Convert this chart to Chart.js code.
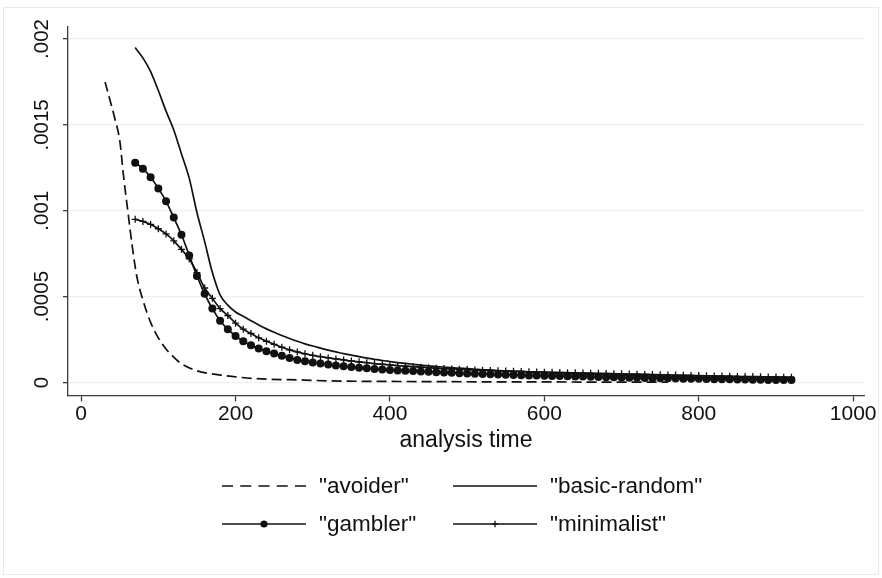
<!DOCTYPE html>
<html>
<head>
<meta charset="utf-8">
<script src="https://cdn.jsdelivr.net/npm/chart.js"></script>
<style>
  html, body { margin: 0; padding: 0; background: #fff; }
  canvas { display: block; }
</style>
</head>
<body>
<canvas id="myChart" width="882" height="578"></canvas>
<script>
// analysis time at which gambler / minimalist / basic-random are read
const times = [70, 80, 90, 100, 110, 120, 130, 140, 150, 160, 170, 180, 190, 200, 210, 220, 230, 240, 250, 260,
  270, 280, 290, 300, 310, 320, 330, 340, 350, 360, 370, 380, 390, 400, 410, 420, 430, 440, 450, 460,
  470, 480, 490, 500, 510, 520, 530, 540, 550, 560, 570, 580, 590, 600, 610, 620, 630, 640, 650, 660,
  670, 680, 690, 700, 710, 720, 730, 740, 750, 760, 770, 780, 790, 800, 810, 820, 830, 840, 850, 860,
  870, 880, 890, 900, 910, 920];

const avoiderTimes = [31, 40, 44, 50, 55, 61, 66, 72, 80, 90, 100, 110, 116, 129, 150, 181, 224, 289, 322, 400, 500, 600, 700, 760];
const avoider = [0.00175, 0.0016, 0.00153, 0.00141, 0.0012, 0.00098, 0.0008, 0.00062, 0.00048, 0.00035, 0.00026, 0.000195,
  0.000165, 0.000112, 0.000068, 0.000043, 0.000023, 0.000014, 0.000009, 0.000006, 0.000004, 0.000003, 0.000002, 0.000002];

const basicRandom = [0.00195, 0.00189, 0.00181, 0.0017, 0.00158, 0.00147, 0.00133, 0.00119, 0.00099, 0.00082,
  0.00064, 0.00051, 0.00045, 0.00041, 0.000385, 0.00036, 0.000335, 0.000312, 0.000292, 0.000273,
  0.000256, 0.00024, 0.000225, 0.000212, 0.0002, 0.000188, 0.000178, 0.000168, 0.000159, 0.00015,
  0.000142, 0.000135, 0.000128, 0.000122, 0.000116, 0.000111, 0.000106, 0.000101, 0.000097, 0.000093,
  0.00009, 0.000086, 0.000083, 0.00008, 0.000077, 0.000074, 0.000072, 0.000069, 0.000067, 0.000065,
  0.000063, 0.000061, 0.000059, 0.000057, 0.000055, 0.000054, 0.000052, 0.00005, 0.000049, 0.000047,
  0.000046, 0.000044, 0.000043, 0.000042, 0.00004, 0.000039, 0.000038, 0.000037, 0.000036, 0.000035,
  0.000034, 0.000033, 0.000032, 0.000031, 0.00003, 0.000029, 0.000028, 0.000027, 0.000026, 0.000025,
  0.000025, 0.000024, 0.000023, 0.000022, 0.000022, 0.000021];

const gambler = [0.00128, 0.001245, 0.001195, 0.00113, 0.001055, 0.00096, 0.00086, 0.00074, 0.00062, 0.000516,
  0.00043, 0.00036, 0.00031, 0.00027, 0.00024, 0.000216, 0.000197, 0.000182, 0.000168, 0.000155,
  0.000143, 0.000131, 0.000124, 0.000116, 0.00011, 0.000104, 0.000099, 0.000094, 0.00009, 0.000086,
  0.000082, 0.000079, 0.000076, 0.000073, 0.00007, 0.000068, 0.000066, 0.000064, 0.000062, 0.00006,
  0.000058, 0.000056, 0.000054, 0.000052, 0.000051, 0.000049, 0.000048, 0.000046, 0.000045, 0.000044,
  0.000042, 0.000041, 0.00004, 0.000039, 0.000038, 0.000037, 0.000036, 0.000035, 0.000034, 0.000033,
  0.000032, 0.000031, 0.00003, 0.000029, 0.000028, 0.000027, 0.000026, 0.000025, 0.000024, 0.000024,
  0.000023, 0.000022, 0.000021, 0.000021, 0.00002, 0.000019, 0.000019, 0.000018, 0.000017, 0.000017,
  0.000016, 0.000016, 0.000015, 0.000015, 0.000014, 0.000014];

const minimalist = [0.00095, 0.000938, 0.00092, 0.000895, 0.000865, 0.000825, 0.000775, 0.00072, 0.00064, 0.00055,
  0.00049, 0.00043, 0.00039, 0.000345, 0.00031, 0.000285, 0.00026, 0.00024, 0.000222, 0.000205,
  0.00019, 0.000178, 0.000167, 0.000158, 0.00015, 0.000143, 0.000137, 0.000131, 0.000125, 0.00012,
  0.000115, 0.00011, 0.000106, 0.000102, 0.000098, 0.000095, 0.000092, 0.000089, 0.000086, 0.000083,
  0.000081, 0.000079, 0.000077, 0.000075, 0.000073, 0.000071, 0.00007, 0.000068, 0.000067, 0.000065,
  0.000064, 0.000062, 0.000061, 0.00006, 0.000059, 0.000058, 0.000057, 0.000056, 0.000055, 0.000054,
  0.000053, 0.000052, 0.000051, 0.00005, 0.000049, 0.000048, 0.000047, 0.000046, 0.000045, 0.000044,
  0.000043, 0.000042, 0.000041, 0.00004, 0.000039, 0.000038, 0.000037, 0.000036, 0.000035, 0.000034,
  0.000034, 0.000033, 0.000032, 0.000032, 0.000031, 0.00003];

const xTicks = [0, 200, 400, 600, 800, 1000];
const yTicks = [0, 0.0005, 0.001, 0.0015, 0.002];
const yTickLabels = ['0', '.0005', '.001', '.0015', '.002'];
const seriesNames = ['"avoider"', '"basic-random"', '"gambler"', '"minimalist"'];

const ink = '#111';
const axisColor = '#3c3c3c';
const FONT = 'Liberation Sans, Arial, Helvetica, sans-serif';

function pts(xs, ys) {
  return ys.map((y, i) => ({ x: xs[i], y: y }));
}

// light outer frame like the stata graph region
const frame = {
  id: 'frame',
  beforeDraw(chart) {
    const ctx = chart.ctx;
    ctx.save();
    ctx.fillStyle = '#fff';
    ctx.fillRect(0, 0, chart.width, chart.height);
    ctx.strokeStyle = '#e4ecee';
    ctx.lineWidth = 1;
    ctx.strokeRect(3.5, 7.5, chart.width - 7, chart.height - 11);
    ctx.restore();
  }
};

// vertical y tick labels (reading upward), placed on the scale's own pixels
const yLabels = {
  id: 'yLabels',
  afterDraw(chart) {
    const ctx = chart.ctx;
    const y = chart.scales.y;
    ctx.save();
    ctx.fillStyle = ink;
    ctx.font = '20.5px ' + FONT;
    ctx.textAlign = 'center';
    ctx.textBaseline = 'middle';
    yTicks.forEach((v, i) => {
      ctx.save();
      ctx.translate(y.right - 27, y.getPixelForValue(v));
      ctx.rotate(-Math.PI / 2);
      ctx.fillText(yTickLabels[i], 0, 1);
      ctx.restore();
    });
    ctx.restore();
  }
};

// two-column legend under the axis title
const legendGrid = {
  id: 'legendGrid',
  afterDraw(chart) {
    const ctx = chart.ctx;
    chart.data.datasets.forEach((ds, i) => {
      const x0 = i % 2 ? 453 : 222;
      const y = i < 2 ? 486 : 524;
      const len = 84;
      ctx.save();
      ctx.strokeStyle = ds.borderColor;
      ctx.lineWidth = ds.borderWidth;
      ctx.setLineDash(ds.borderDash ? [11, 7.25] : []);
      ctx.beginPath();
      ctx.moveTo(x0, y);
      ctx.lineTo(x0 + len, y);
      ctx.stroke();
      ctx.setLineDash([]);
      if (ds.pointRadius > 0) {
        ctx.fillStyle = ds.pointBackgroundColor;
        ctx.strokeStyle = ds.pointBorderColor;
        ctx.lineWidth = ds.pointBorderWidth;
        Chart.helpers.drawPoint(ctx, {
          pointStyle: ds.pointStyle,
          radius: ds.pointRadius * 0.9,
          borderWidth: ds.pointBorderWidth
        }, x0 + len / 2, y);
      }
      ctx.fillStyle = ink;
      ctx.font = '22.5px ' + FONT;
      ctx.textBaseline = 'middle';
      ctx.textAlign = 'left';
      ctx.fillText(ds.label, x0 + 97, y + 1);
      ctx.restore();
    });
  }
};

const ctx = document.getElementById('myChart');

new Chart(ctx, {
  type: 'line',
  data: {
    datasets: [{
      label: seriesNames[0],
      data: pts(avoiderTimes, avoider),
      borderColor: ink,
      borderWidth: 1.7,
      borderDash: [10, 5],
      pointRadius: 0
    }, {
      label: seriesNames[1],
      data: pts(times, basicRandom),
      borderColor: ink,
      borderWidth: 1.7,
      pointRadius: 0
    }, {
      label: seriesNames[2],
      data: pts(times, gambler),
      borderColor: ink,
      borderWidth: 1.7,
      pointStyle: 'circle',
      pointRadius: 4,
      pointBackgroundColor: ink,
      pointBorderColor: ink,
      pointBorderWidth: 0
    }, {
      label: seriesNames[3],
      data: pts(times, minimalist),
      borderColor: ink,
      borderWidth: 1.7,
      pointStyle: 'cross',
      pointRadius: 3.5,
      pointBackgroundColor: ink,
      pointBorderColor: ink,
      pointBorderWidth: 1.3
    }]
  },
  options: {
    responsive: false,
    animation: false,
    devicePixelRatio: 1,
    cubicInterpolationMode: 'monotone',
    layout: { padding: { left: 63, right: 18, top: 27, bottom: 124 } },
    plugins: {
      legend: { display: false },
      tooltip: { enabled: false }
    },
    scales: {
      x: {
        type: 'linear',
        min: -17,
        max: 1014,
        afterBuildTicks: (axis) => { axis.ticks = xTicks.map(v => ({ value: v })); },
        grid: { drawOnChartArea: false, tickLength: 6, tickColor: axisColor, tickWidth: 1.3 },
        border: { display: true, color: axisColor, width: 1.3 },
        ticks: {
          padding: 2,
          color: ink,
          font: { family: FONT, size: 21, lineHeight: 1 },
          maxRotation: 0,
          callback: (v) => String(v)
        },
        title: {
          display: true,
          text: 'analysis time',
          color: ink,
          font: { family: FONT, size: 23 },
          padding: { top: 0, bottom: 0 }
        }
      },
      y: {
        type: 'linear',
        min: -0.0000754,
        max: 0.00207,
        afterBuildTicks: (axis) => { axis.ticks = yTicks.map(v => ({ value: v })); },
        grid: { color: '#e8f0f2', lineWidth: 1.3, tickLength: 5, tickColor: axisColor, tickWidth: 1.3 },
        border: { display: true, color: axisColor, width: 1.3 },
        ticks: { display: false }
      }
    }
  },
  plugins: [frame, yLabels, legendGrid]
});
</script>
</body>
</html>
